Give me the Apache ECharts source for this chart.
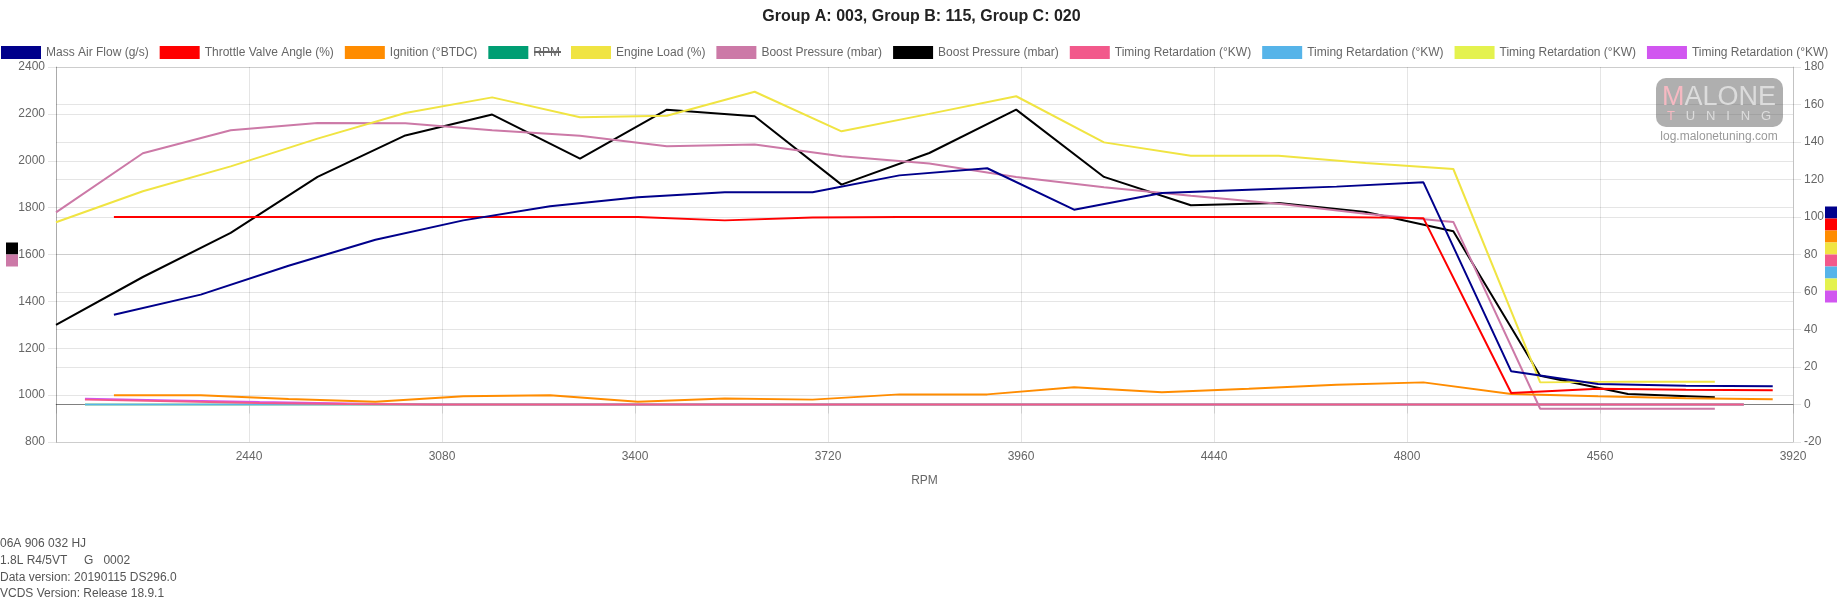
<!DOCTYPE html>
<html style="height: 100%">
    <head>
        <meta charset="utf-8">
        <script src="https://cdn.jsdelivr.net/npm/echarts@6/dist/echarts.min.js"></script>
    </head>
    <body style="height: 100%; margin: 0; background: #fff">
        <div id="container" style="width: 1843px; height: 600px"></div>
    </body>
</html>
<script type="text/javascript">
    // sample times (s) for each measuring group, x tick every 2 s
    var timeB = [0.00, 0.90, 1.81, 2.71, 3.62, 4.52, 5.43, 6.33, 7.24, 8.14, 9.05, 9.95, 10.86, 11.76, 12.67, 13.57, 14.48, 15.38, 16.29, 17.19];
    var timeC = [0.30, 1.20, 2.11, 3.01, 3.92, 4.82, 5.73, 6.63, 7.54, 8.44, 9.35, 10.25, 11.16, 12.06, 12.97, 13.87, 14.78, 15.68, 16.59, 17.49];
    var timeA = [0.60, 1.50, 2.41, 3.31, 4.22, 5.12, 6.03, 6.93, 7.84, 8.74, 9.65, 10.55, 11.46, 12.36, 13.27, 14.17, 15.08, 15.98, 16.89, 17.79];
    var xLabels = ['', '2440', '3080', '3400', '3720', '3960', '4440', '4800', '4560', '3920'];

    // group A: 003
    var massAirFlow = [47.9, 58.6, 74.0, 87.9, 98.2, 105.7, 110.5, 113.2, 113.2, 122.2, 126.0, 103.9, 112.8, 114.5, 116.2, 118.5, 17.7, 10.9, 10.0, 9.7];
    var throttleAngle = [100, 100, 100, 100, 100, 100, 100, 98.2, 99.7, 100, 100, 100, 100, 100, 100, 99.4, 6.1, 8.4, 7.9, 7.6];
    var ignition = [4.9, 4.9, 2.9, 1.5, 4.4, 4.9, 1.5, 3.2, 2.6, 5.4, 5.4, 9.2, 6.5, 8.4, 10.5, 11.8, 5.6, 4.4, 3.3, 2.8];
    var rpm = [];
    // group B: 115
    var engineLoad = [97.2, 113.7, 127.0, 141.8, 155.5, 163.8, 153.2, 154.0, 166.8, 145.7, 155.0, 164.4, 139.8, 132.7, 132.7, 128.8, 125.6, 11.8, 12.2, 12.2];
    var boostSpecified = [1780, 2032, 2130, 2161, 2160, 2130, 2107, 2062, 2069, 2019, 1988, 1931, 1887, 1851, 1817, 1774, 1739, 942, 942, 942];
    var boostActual = [1300, 1504, 1692, 1931, 2108, 2197, 2009, 2218, 2190, 1898, 2033, 2218, 1931, 1810, 1820, 1781, 1699, 1083, 1005, 991];
    // group C: 020
    var timing1 = [2.6, 1.7, 0.8, 0.3, 0, 0, 0, 0, 0, 0, 0, 0, 0, 0, 0, 0, 0, 0, 0, 0];
    var timing2 = [0, 0, 0, 0, 0, 0, 0, 0, 0, 0, 0, 0, 0, 0, 0, 0, 0, 0, 0, 0];
    var timing3 = [0, 0, 0, 0, 0, 0, 0, 0, 0, 0, 0, 0, 0, 0, 0, 0, 0, 0, 0, 0];
    var timing4 = [3.1, 2.2, 1.3, 0.6, 0, 0, 0, 0, 0, 0, 0, 0, 0, 0, 0, 0, 0, 0, 0, 0];

    var footerLines = ['06A 906 032 HJ', '1.8L R4/5VT     G   0002', 'Data version: 20190115 DS296.0', 'VCDS Version: Release 18.9.1'];

    var font = "'Liberation Sans', Arial, Helvetica, sans-serif";
    var gridTop = 67, gridLeft = 56, gridRight = 50, gridBottom = 158;

    var dom = document.getElementById("container");
    var myChart = echarts.init(dom, null, {renderer: 'canvas'});

    // legend shows duplicate names, so keep them unique with zero-width chars
    var zw = '\u200b';
    var seriesDefs = [
        {name: 'Mass Air Flow (g/s)', color: '#00008b', t: timeA, v: massAirFlow, axis: 1},
        {name: 'Throttle Valve Angle (%)', color: '#ff0000', t: timeA, v: throttleAngle, axis: 1},
        {name: 'Ignition (°BTDC)', color: '#ff8c00', t: timeA, v: ignition, axis: 1},
        {name: 'RPM', color: '#009e73', t: timeA, v: rpm, axis: 1},
        {name: 'Engine Load (%)', color: '#f0e442', t: timeB, v: engineLoad, axis: 1},
        {name: 'Boost Pressure (mbar)', color: '#cc79a7', t: timeB, v: boostSpecified, axis: 0},
        {name: 'Boost Pressure (mbar)' + zw, color: '#000000', t: timeB, v: boostActual, axis: 0},
        {name: 'Timing Retardation (°KW)', color: '#f2598b', t: timeC, v: timing1, axis: 1},
        {name: 'Timing Retardation (°KW)' + zw, color: '#56b4e9', t: timeC, v: timing2, axis: 1},
        {name: 'Timing Retardation (°KW)' + zw + zw, color: '#e4f24e', t: timeC, v: timing3, axis: 1},
        {name: 'Timing Retardation (°KW)' + zw + zw + zw, color: '#d156f0', t: timeC, v: timing4, axis: 1}
    ];

    var series = seriesDefs.map(function (d, i) {
        var s = {
            name: d.name,
            type: 'line',
            yAxisIndex: d.axis,
            data: d.v.map(function (y, k) { return [d.t[k], y]; }),
            showSymbol: false,
            symbol: 'none',
            color: d.color,
            lineStyle: {color: d.color, width: 2},
            z: 20 - i,
            silent: true
        };
        if (i === seriesDefs.length - 1) {
            s.markLine = {
                silent: true, symbol: 'none', label: {show: false},
                lineStyle: {color: 'rgba(0,0,0,0.25)', width: 1, type: 'solid'},
                data: [{yAxis: 0}]
            };
        }
        return s;
    });

    var leftAxisColors = ['#000000', '#cc79a7'];
    var rightAxisColors = ['#00008b', '#ff0000', '#ff8c00', '#f0e442', '#f2598b', '#56b4e9', '#e4f24e', '#d156f0'];
    var midY = gridTop + (600 - gridTop - gridBottom) / 2;

    var graphics = [];
    leftAxisColors.forEach(function (c, i) {
        graphics.push({type: 'rect', silent: true, shape: {x: 6, y: midY - leftAxisColors.length * 6 + i * 12, width: 12, height: 12}, style: {fill: c}});
    });
    rightAxisColors.forEach(function (c, i) {
        graphics.push({type: 'rect', silent: true, shape: {x: 1825, y: midY - rightAxisColors.length * 6 + i * 12, width: 12, height: 12}, style: {fill: c}});
    });
    // RPM legend entry is struck through (hidden dataset)
    graphics.push({type: 'line', silent: true, shape: {x1: 534, y1: 52, x2: 561, y2: 52}, style: {stroke: '#666', lineWidth: 2}});
    // watermark
    graphics.push({type: 'rect', silent: true, shape: {x: 1656, y: 78, width: 127, height: 49, r: 10}, style: {fill: 'rgba(95,95,95,0.5)'}, z: 50});
    graphics.push({type: 'text', silent: true, x: 1719, y: 98, z: 51, style: {
        text: '{m|M}{w|ALONE}', align: 'center', verticalAlign: 'middle',
        rich: {
            m: {fontSize: 27, fontFamily: font, fill: 'rgba(250,185,195,0.95)'},
            w: {fontSize: 27, fontFamily: font, fill: 'rgba(225,225,225,0.9)'}
        }
    }});
    graphics.push({type: 'text', silent: true, x: 1719, y: 116, z: 51, style: {
        text: '{m|T}{w|   U   N   I   N   G}', align: 'center', verticalAlign: 'middle',
        rich: {
            m: {fontSize: 13, fontFamily: font, fill: 'rgba(250,185,195,0.95)'},
            w: {fontSize: 13, fontFamily: font, fill: 'rgba(225,225,225,0.9)'}
        }
    }});
    graphics.push({type: 'text', silent: true, x: 1719, y: 137, z: 51, style: {
        text: 'log.malonetuning.com', align: 'center', verticalAlign: 'middle', fill: '#9a9a9a', font: '12px ' + font
    }});
    footerLines.forEach(function (line, i) {
        graphics.push({type: 'text', silent: true, x: 0, y: 544 + i * 16.7, style: {
            text: line, align: 'left', verticalAlign: 'middle', fill: '#555', font: '12px ' + font
        }});
    });

    var plain = function (v) { return String(v); };

    var option = {
        animation: false,
        backgroundColor: '#fff',
        title: {
            text: 'Group A: 003, Group B: 115, Group C: 020',
            left: 'center',
            top: 9,
            padding: 0,
            textStyle: {fontSize: 16, fontWeight: 'bold', color: '#222', fontFamily: font}
        },
        legend: {
            top: 46,
            left: 1,
            padding: 0,
            itemWidth: 40,
            itemHeight: 13,
            itemGap: 11,
            icon: 'rect',
            selectedMode: false,
            data: seriesDefs.map(function (d) { return d.name; }),
            formatter: function (name) { return name.replace(/\u200b/g, ''); },
            textStyle: {color: '#666', fontSize: 12, fontFamily: font}
        },
        grid: {
            left: gridLeft,
            right: gridRight,
            top: gridTop,
            bottom: gridBottom,
            containLabel: false
        },
        xAxis: {
            type: 'value',
            min: 0,
            max: 18,
            interval: 2,
            name: 'RPM',
            nameLocation: 'middle',
            nameGap: 33,
            nameTextStyle: {color: '#666', fontSize: 12, fontFamily: font},
            axisLine: {show: true, lineStyle: {color: 'rgba(0,0,0,0.25)'}},
            axisTick: {show: true, length: 9, lineStyle: {color: 'rgba(0,0,0,0.1)'}},
            axisLabel: {
                margin: 9, color: '#666', fontSize: 12, fontFamily: font,
                showMinLabel: true, showMaxLabel: true,
                formatter: function (v) { return xLabels[Math.round(v / 2)]; }
            },
            splitLine: {show: true, lineStyle: {color: 'rgba(0,0,0,0.1)'}}
        },
        yAxis: [
            {
                type: 'value',
                position: 'left',
                min: 800,
                max: 2400,
                interval: 200,
                axisLine: {show: true, lineStyle: {color: 'rgba(0,0,0,0.25)'}},
                axisTick: {show: true, length: 8, lineStyle: {color: 'rgba(0,0,0,0.1)'}},
                axisLabel: {margin: 11, color: '#666', fontSize: 12, fontFamily: font, showMinLabel: true, showMaxLabel: true, formatter: plain},
                splitLine: {show: true, lineStyle: {color: 'rgba(0,0,0,0.1)'}}
            },
            {
                type: 'value',
                position: 'right',
                min: -20,
                max: 180,
                interval: 20,
                axisLine: {show: true, lineStyle: {color: 'rgba(0,0,0,0.15)'}},
                axisTick: {show: true, length: 8, lineStyle: {color: 'rgba(0,0,0,0.1)'}},
                axisLabel: {margin: 11, color: '#666', fontSize: 12, fontFamily: font, showMinLabel: true, showMaxLabel: true, formatter: plain},
                splitLine: {show: true, lineStyle: {color: 'rgba(0,0,0,0.1)'}}
            }
        ],
        graphic: graphics,
        series: series
    };

    if (option && typeof option === 'object') {
        myChart.setOption(option);
    }
</script>
